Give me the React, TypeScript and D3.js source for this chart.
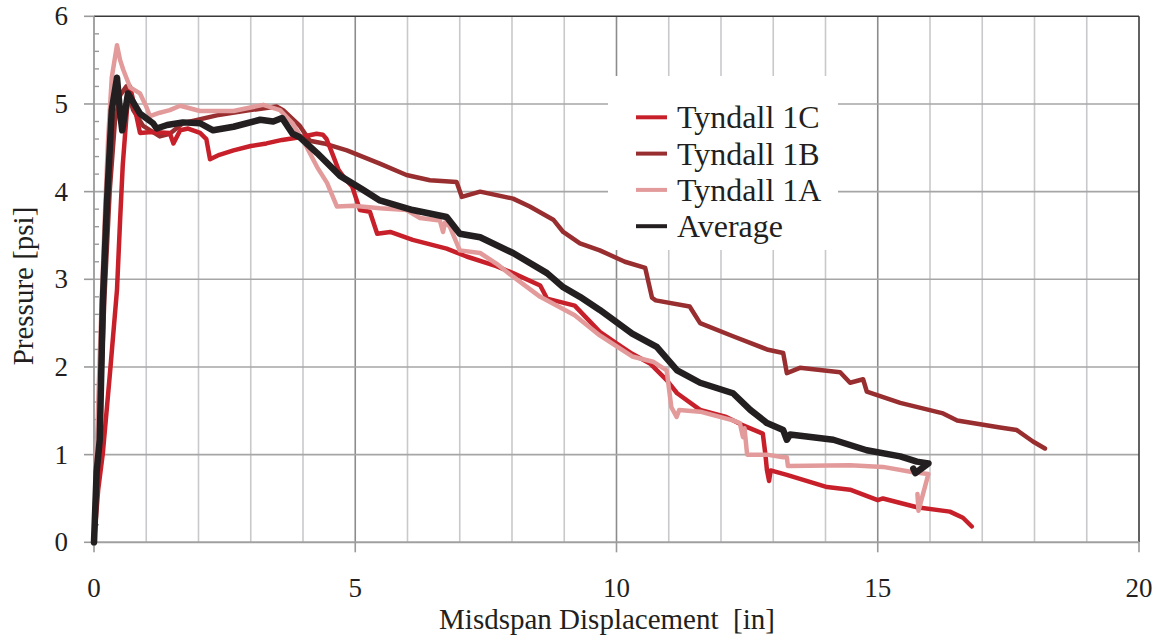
import React from "react";
import * as d3 from "d3";

type Pt = [number, number];

const tyndall1C: Pt[] = [[0,0],[0.08,0.6],[0.17,1.02],[0.31,1.96],[0.44,2.88],[0.5,3.68],[0.55,4.3],[0.63,4.93],[0.69,5.2],[0.75,5.04],[0.88,4.67],[1.1,4.68],[1.45,4.67],[1.52,4.55],[1.65,4.7],[1.8,4.72],[2.03,4.67],[2.15,4.6],[2.22,4.37],[2.4,4.42],[2.67,4.47],[3.0,4.52],[3.3,4.55],[3.6,4.59],[3.94,4.62],[4.1,4.64],[4.26,4.66],[4.38,4.65],[4.45,4.6],[4.55,4.45],[4.68,4.25],[4.8,4.15],[4.94,4.06],[5.09,3.79],[5.28,3.77],[5.42,3.52],[5.67,3.54],[6.1,3.45],[6.75,3.35],[7.13,3.26],[7.7,3.15],[8.02,3.07],[8.54,2.93],[8.67,2.78],[9.2,2.7],[9.68,2.4],[10.0,2.27],[10.3,2.15],[10.64,2.04],[10.96,1.85],[11.16,1.7],[11.6,1.51],[12.1,1.43],[12.4,1.34],[12.8,1.24],[12.85,1.0],[12.88,0.82],[12.92,0.7],[12.95,0.82],[13.26,0.77],[14.03,0.63],[14.47,0.6],[15.0,0.48],[15.1,0.5],[15.75,0.4],[16.38,0.35],[16.63,0.28],[16.8,0.18]];

const tyndall1B: Pt[] = [[0,0],[0.1,1.2],[0.2,2.8],[0.3,4.0],[0.4,4.8],[0.5,5.1],[0.62,5.2],[0.75,4.93],[0.94,4.75],[1.26,4.63],[1.45,4.66],[1.7,4.78],[2.35,4.87],[2.99,4.93],[3.5,4.97],[3.62,4.93],[3.94,4.75],[4.13,4.58],[4.4,4.55],[4.84,4.47],[5.47,4.32],[5.98,4.19],[6.43,4.13],[6.94,4.11],[7.04,3.94],[7.39,4.0],[8.02,3.92],[8.34,3.83],[8.79,3.68],[8.98,3.54],[9.3,3.41],[9.68,3.33],[10.16,3.2],[10.55,3.13],[10.68,2.79],[10.75,2.76],[11.4,2.69],[11.6,2.5],[12.23,2.35],[12.88,2.2],[13.19,2.16],[13.26,1.93],[13.51,1.99],[14.28,1.94],[14.47,1.82],[14.72,1.86],[14.79,1.72],[15.43,1.59],[16.25,1.47],[16.52,1.39],[17.34,1.31],[17.66,1.28],[17.97,1.15],[18.2,1.07]];

const tyndall1A: Pt[] = [[0,0],[0.05,1.0],[0.12,2.3],[0.2,3.6],[0.27,4.6],[0.34,5.3],[0.44,5.67],[0.5,5.5],[0.56,5.39],[0.69,5.19],[0.88,5.12],[1.0,4.97],[1.07,4.86],[1.26,4.9],[1.45,4.93],[1.65,4.98],[2.03,4.92],[2.67,4.92],[3.24,4.99],[3.56,4.93],[3.8,4.78],[4.07,4.51],[4.27,4.28],[4.46,4.1],[4.65,3.83],[4.96,3.84],[5.47,3.81],[5.98,3.79],[6.24,3.7],[6.62,3.67],[6.68,3.54],[6.72,3.65],[6.81,3.6],[7.0,3.33],[7.39,3.3],[7.7,3.18],[8.02,3.03],[8.54,2.8],[9.2,2.59],[9.68,2.36],[10.3,2.12],[10.7,2.06],[10.96,1.96],[11.05,1.54],[11.15,1.43],[11.2,1.51],[11.6,1.49],[12.23,1.39],[12.36,1.36],[12.42,1.2],[12.45,1.3],[12.5,1.0],[12.88,1.0],[13.19,0.97],[13.26,0.97],[13.28,0.87],[14.47,0.88],[15.1,0.86],[15.68,0.8],[15.97,0.78],[15.78,0.36],[15.76,0.55]];

const average: Pt[] = [[0,0],[0.05,0.8],[0.11,1.17],[0.17,2.76],[0.25,3.9],[0.34,4.93],[0.44,5.3],[0.5,4.9],[0.54,4.7],[0.65,5.12],[0.88,4.89],[1.13,4.78],[1.2,4.72],[1.4,4.76],[1.7,4.79],[2.03,4.78],[2.28,4.7],[2.67,4.74],[3.18,4.82],[3.43,4.8],[3.6,4.84],[3.8,4.66],[3.94,4.62],[4.27,4.44],[4.71,4.18],[5.15,4.02],[5.47,3.9],[6.1,3.79],[6.75,3.71],[7.0,3.52],[7.39,3.48],[8.02,3.3],[8.67,3.07],[8.98,2.91],[9.3,2.8],[9.68,2.65],[10.3,2.38],[10.77,2.23],[11.16,1.96],[11.6,1.82],[12.23,1.7],[12.56,1.51],[12.88,1.36],[13.19,1.28],[13.26,1.17],[13.32,1.23],[14.15,1.17],[14.79,1.05],[15.43,0.98],[15.75,0.92],[15.97,0.9],[15.72,0.79],[15.68,0.84]];

const seriesNames = ["Tyndall 1C", "Tyndall 1B", "Tyndall 1A", "Average"];
const seriesColors = ["#C8202A", "#982E2F", "#E39A9A", "#231F20"];
const seriesWidths = [4.5, 4.5, 4.5, 6.5];
const seriesData = [tyndall1C, tyndall1B, tyndall1A, average];
const drawOrder = [1, 0, 2, 3];

const xTicks = [0, 5, 10, 15, 20];
const yTicks = [0, 1, 2, 3, 4, 5, 6];
const xGrid = d3.range(1, 20);
const yMinor = d3.range(1, 30).map((i) => i * 0.2).filter((v) => Math.abs(v - Math.round(v)) > 0.01);

const FONT = "'Liberation Serif', 'Times New Roman', serif";

export default function App() {
  const W = 1161, H = 643;
  const x = d3.scaleLinear().domain([0, 20]).range([94, 1139]);
  const y = d3.scaleLinear().domain([0, 6]).range([542.3, 16.3]);
  const line = d3.line<Pt>().x((d) => x(d[0])).y((d) => y(d[1]));
  const left = x(0), right = x(20), top = y(6), bottom = y(0);

  const legX = 636, legY0 = 128.3, legDy = 36.3;

  return (
    <svg width={W} height={H} style={{ position: "absolute", left: 0, top: 0, background: "#fff" }} fontFamily={FONT}>
      <rect x={0} y={0} width={W} height={H} fill="#fff" />
      {xGrid.map((v) => (
        <line key={"vx" + v} x1={x(v)} x2={x(v)} y1={top} y2={bottom}
          stroke={v % 5 === 0 ? "#8c8c8c" : "#c9c9cb"} strokeWidth={1.6} />
      ))}
      {yTicks.filter((v) => v > 0 && v < 6).map((v) => (
        <line key={"hy" + v} x1={left} x2={right} y1={y(v)} y2={y(v)} stroke="#a6a6a6" strokeWidth={1.6} />
      ))}
      <line x1={left} x2={right} y1={top} y2={top} stroke="#3a3a3a" strokeWidth={1.6} />
      <line x1={right} x2={right} y1={top} y2={bottom} stroke="#3a3a3a" strokeWidth={1.6} />
      <line x1={left} x2={left} y1={top} y2={bottom + 1} stroke="#9a9a9a" strokeWidth={1.8} />
      <line x1={left} x2={right} y1={bottom} y2={bottom} stroke="#a0a0a0" strokeWidth={2} />
      {yTicks.map((v) => (
        <line key={"yt" + v} x1={84} x2={left} y1={y(v)} y2={y(v)} stroke="#9a9a9a" strokeWidth={1.6} />
      ))}
      {yMinor.map((v) => (
        <line key={"ym" + v} x1={left} x2={left + 5} y1={y(v)} y2={y(v)} stroke="#9a9a9a" strokeWidth={1.4} />
      ))}
      {xTicks.map((v) => (
        <line key={"xt" + v} x1={x(v)} x2={x(v)} y1={bottom} y2={bottom + 10} stroke="#9a9a9a" strokeWidth={1.6} />
      ))}
      {yTicks.map((v) => (
        <text key={"yl" + v} x={68} y={y(v) + 9} textAnchor="end" fontSize={27} fill="#231F20">{v}</text>
      ))}
      {xTicks.map((v) => (
        <text key={"xl" + v} x={x(v)} y={597} textAnchor="middle" fontSize={27} fill="#231F20">{v}</text>
      ))}
      <text x={607} y={629} textAnchor="middle" fontSize={29} fill="#231F20" style={{ whiteSpace: "pre" }}>Misdspan Displacement  [in]</text>
      <text transform={`translate(33,286) rotate(-90)`} textAnchor="middle" fontSize={29} fill="#231F20">Pressure [psi]</text>
      <g fill="none" strokeLinejoin="round" strokeLinecap="round">
        {drawOrder.map((i) => (
          <path key={"s" + i} d={line(seriesData[i]) || ""} stroke={seriesColors[i]} strokeWidth={seriesWidths[i]} />
        ))}
      </g>
      <rect x={608} y={76} width={230} height={174} fill="#fff" />
      {seriesNames.map((n, i) => (
        <g key={"lg" + i}>
          <line x1={legX} x2={legX + 31} y1={legY0 + i * legDy - 11} y2={legY0 + i * legDy - 11}
            stroke={seriesColors[i]} strokeWidth={4} />
          <text x={677} y={legY0 + i * legDy} fontSize={32} fill="#231F20">{n}</text>
        </g>
      ))}
    </svg>
  );
}
